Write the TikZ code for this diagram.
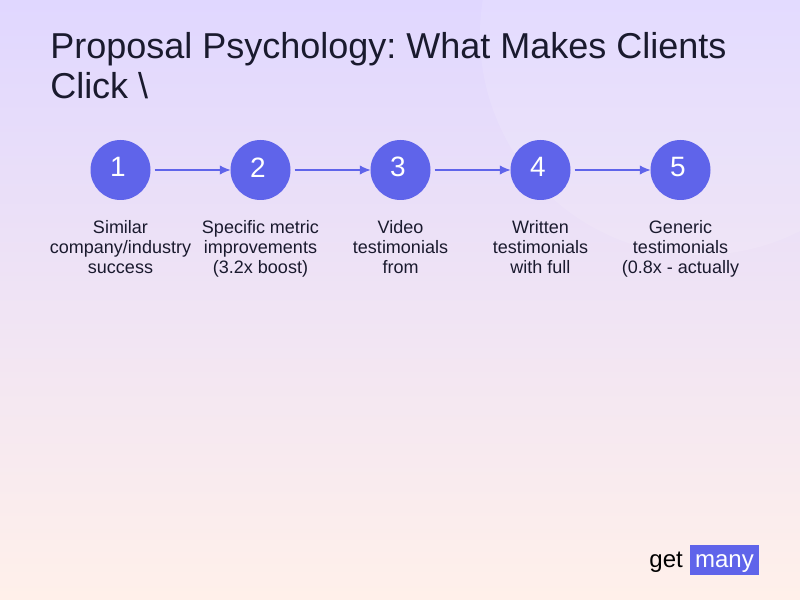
\documentclass[tikz,border=0pt]{standalone}
\usepackage{fontspec}
\setmainfont{Liberation Sans}
\usepackage{xcolor}
\usetikzlibrary{arrows.meta,positioning}

\definecolor{brandblue}{HTML}{5F64EA}
\definecolor{inkdark}{HTML}{1A1A2E}
\definecolor{bgtop}{HTML}{E0D7FF}
\definecolor{bgbottom}{HTML}{FFF0EA}
\frenchspacing
\newcommand{\stepnum}[1]{\raisebox{2pt}[\height][\depth]{\kern-4pt #1}}

\begin{document}
\begin{tikzpicture}[x=0.75pt, y=0.75pt, node distance=60pt,
    stepnode/.style={circle, fill=brandblue, text=white, inner sep=0pt, outer sep=0pt, minimum size=45pt, font=\fontsize{21}{24}\selectfont},
    caption/.style={below=15.5pt of #1, align=center, text=inkdark, inner sep=0pt, font=\fontsize{13.5}{15}\selectfont},
    link/.style={-{Latex[length=8pt,width=7pt]}, thick, draw=brandblue, shorten <=3pt},
    logotext/.style={inner sep=0pt, text height=16.5pt, text depth=5.25pt, font=\fontsize{18}{20}\selectfont}]

    % Background
    \shade[top color=bgtop, bottom color=bgbottom] (0,0) rectangle (800,600);
    \useasboundingbox (0,0) rectangle (800,600);
    \fill[white, opacity=0.12] (700,565) circle (220);

    % Title
    \node[anchor=north west, align=left, inner sep=0pt, text=inkdark, font=\fontsize{27}{30}\selectfont] (title) at (50,568) {Proposal Psychology: What Makes Clients\\Click \textbackslash};

    % Nodes
    \node[stepnode] (one) at (120.5,430) {\stepnum{1}};
    \node[stepnode, right=of one] (two) {\stepnum{2}};
    \node[stepnode, right=of two] (three) {\stepnum{3}};
    \node[stepnode, right=of three] (four) {\stepnum{4}};
    \node[stepnode, right=of four] (five) {\stepnum{5}};

    % Captions
    \node[caption=one] (similar) {Similar\\company/industry\\success};
    \node[caption=two] (metric) {Specific metric\\improvements\\(3.2x boost)};
    \node[caption=three] (video) {Video\\testimonials\\from};
    \node[caption=four] (written) {Written\\testimonials\\with full};
    \node[caption=five] (generic) {Generic\\testimonials\\(0.8x - actually};

    % Links
    \draw[link] (one) -- (two);
    \draw[link] (two) -- (three);
    \draw[link] (three) -- (four);
    \draw[link] (four) -- (five);

    % Logo
    \node[logotext, fill=brandblue, text=white, minimum width=51.75pt, minimum height=22.5pt] (many) at (724.5,40) {many};
    \node[logotext, left=5pt of many, text=black] (get) {get};

\end{tikzpicture}
\end{document}
